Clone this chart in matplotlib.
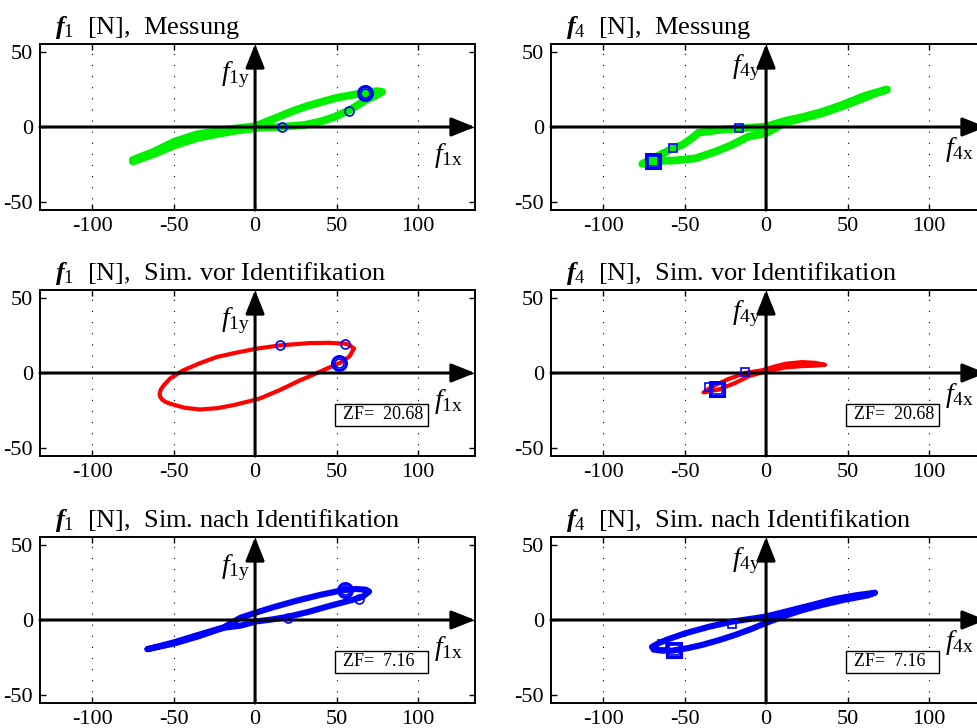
import matplotlib
matplotlib.use("Agg")
import matplotlib.pyplot as plt
from matplotlib.patches import Rectangle

plt.rcParams['font.family'] = ['Liberation Serif', 'DejaVu Serif']
plt.rcParams['mathtext.fontset'] = 'custom'
plt.rcParams['mathtext.rm'] = 'Liberation Serif'
plt.rcParams['mathtext.it'] = 'Liberation Serif:italic'
plt.rcParams['mathtext.bf'] = 'Liberation Serif:bold:italic'
plt.rcParams['axes.unicode_minus'] = False

# --- data ---
xticks = [-100, -50, 0, 50, 100]
yticks = [-50, 0, 50]

titles = ["Messung", "Sim. vor Identifikation", "Sim. nach Identifikation"]
zf_values = [None, 20.68, 7.16]

# f1, Messung (green)
f1_mess_x = [-75, -62, -50, -36, -25, -12, 0, 8, 16, 24, 32, 40, 50, 60, 68, 75, 78,
             74, 68, 58, 48, 40, 30, 15, 3, -12, -25, -36, -50, -62, -75]
f1_mess_y = [-22, -16.5, -10, -5, -3, -1, 0.5, 4, 7.5, 11, 14, 16.5, 19.5, 21.5, 23, 24, 23.5,
             21, 18, 11.3, 6.4, 3.6, 1.3, 0, -0.4, -2.5, -5, -7.5, -12.5, -18, -23]
f1_mess_mk_x = [16.7, 57.4]
f1_mess_mk_y = [0.2, 10.9]
f1_mess_big = (67.4, 22.8)

# f4, Messung (green)
f4_mess_x = [74, 61, 46, 34, 22, 12, 0, -17, -29, -41.5, -45.5, -51.5, -57, -64, -70, -76,
             -68, -56, -43.5, -31, -21, -11, 0, 5.5, 12, 22, 34, 46, 58, 67, 74]
f4_mess_y = [25, 21, 14.5, 10, 6.5, 4.2, 0.3, -1, -2, -3.8, -7.5, -12, -14.2, -18, -21.5, -24.7,
             -22.7, -22.4, -21, -16.5, -12, -6.5, -4.2, -0.9, 3, 5.8, 9, 13.5, 18.5, 22.5, 25]
f4_mess_mk_x = [-16.5, -57]
f4_mess_mk_y = [-0.9, -14.2]
f4_mess_big = (-69.6, -22.7)

# f1, Sim. vor Identifikation (red)
f1_vor_x = [60.6, 58, 55, 45, 33.7, 15.3, 1, -12, -23.5, -34, -44, -52, -56, -57.8, -58.6,
            -58.2, -57, -55, -52, -43, -33.7, -23, -13.3, -5, 3, 15, 27.6, 36, 44, 52, 58, 60.6]
f1_vor_y = [16.3, 18.8, 19.6, 20.2, 20, 18.5, 16.3, 13.5, 10.7, 6.5, 1.8, -3.5, -8.2, -11, -13.7,
            -16, -17.8, -19.3, -20.6, -23.3, -24.4, -23.5, -21.5, -19.3, -17, -11.5, -4.9, -1,
            2.9, 6.7, 11.1, 16.3]
f1_vor_mk_x = [15.3, 55.5]
f1_vor_mk_y = [18.5, 19.6]
f1_vor_big = (51.6, 6.9)

# f4, Sim. vor Identifikation (red)
f4_vor_x = [36, 30, 22, 12, 5.5, -2.6, -12.9, -23, -33, -38.4,
            -29, -19, -10.8, -0.6, 11.6, 22, 30, 36]
f4_vor_y = [5.5, 6.8, 7.3, 6.2, 4.4, 1.8, 0, -4, -9, -13,
            -11, -6.7, -2.2, 0.9, 3.7, 4.6, 4.9, 5.5]
f4_vor_mk_x = [-12.9, -34.9]
f4_vor_mk_y = [0.4, -9.4]
f4_vor_big = (-30.2, -10.6)

# f1, Sim. nach Identifikation (blue)
f1_nach_x = [-66, -50, -35, -19.4, -9, 1, 12, 25.5, 40, 54, 62, 68, 70,
             66, 60, 46, 33, 20.4, 10, 1, -9, -19.4, -35, -50, -66]
f1_nach_y = [-19.5, -15, -10, -5, 1.5, 5.1, 8.8, 12.9, 16.8, 20, 20.7, 20.3, 19,
             15.5, 13.5, 9.5, 5.5, 2.2, 0.3, -0.9, -3.8, -5.2, -11, -15.8, -19.5]
f1_nach_mk_x = [20.4, 63.8]
f1_nach_mk_y = [1.5, 14]
f1_nach_big = (55.1, 20.1)

# f4, Sim. nach Identifikation (blue)
f4_nach_x = [66.7, 55, 42.3, 28, 11.6, -0.6, -21, -35, -49.6, -60, -66, -70, -69,
             -64, -57.7, -48, -39.4, -29, -19, -9, -0.6, 11.6, 22, 34, 48, 62.6, 66.7]
f4_nach_y = [18.2, 16.5, 14, 10, 5.5, 2.2, -1.1, -4.5, -8.9, -12.8, -15.5, -18, -19.8,
             -20.5, -20.5, -18.8, -16.7, -13.5, -10, -6, -2.2, 2.8, 6.5, 10, 13.5, 16.5, 18.2]
f4_nach_mk_x = [-20.6, -64]
f4_nach_mk_y = [-2.5, -15.8]
f4_nach_big = (-56.8, -19.8)

curves = [
    [(f1_mess_x, f1_mess_y, f1_mess_mk_x, f1_mess_mk_y, f1_mess_big),
     (f4_mess_x, f4_mess_y, f4_mess_mk_x, f4_mess_mk_y, f4_mess_big)],
    [(f1_vor_x, f1_vor_y, f1_vor_mk_x, f1_vor_mk_y, f1_vor_big),
     (f4_vor_x, f4_vor_y, f4_vor_mk_x, f4_vor_mk_y, f4_vor_big)],
    [(f1_nach_x, f1_nach_y, f1_nach_mk_x, f1_nach_mk_y, f1_nach_big),
     (f4_nach_x, f4_nach_y, f4_nach_mk_x, f4_nach_mk_y, f4_nach_big)],
]
row_colors = ['#00f000', '#ff0000', '#0000ff']
row_lw = [5.6, 3.0, 4.4]
col_index = ['1', '4']
col_marker = ['o', 's']

# --- layout ---
fig = plt.figure(figsize=(9.78, 7.28), dpi=100)
lefts = [40 / 978, 551 / 978]
width = 435 / 978
bottoms = [1 - 210 / 728, 1 - 456 / 728, 1 - 703 / 728]
height = 166 / 728

for r in range(3):
    for c in range(2):
        ax = fig.add_axes([lefts[c], bottoms[r], width, height])
        cx, cy, mx, my, big = curves[r][c]
        ax.plot(cx, cy, color=row_colors[r], lw=row_lw[r], solid_joinstyle='round',
                solid_capstyle='round', zorder=2)
        ms = 6.5 if col_marker[c] == 'o' else 6
        ax.plot(mx, my, linestyle='none', marker=col_marker[c], ms=ms, mfc='none',
                mec='#0000ff', mew=1.2, zorder=5)
        ax.plot([big[0]], [big[1]], linestyle='none', marker=col_marker[c], ms=10,
                mfc='none', mec='#0000ff', mew=2.2, zorder=5)
        ax.plot([big[0]], [big[1]], linestyle='none', marker=col_marker[c], ms=6.5,
                mfc='none', mec='#0000ff', mew=1.2, zorder=5)

        ax.set_xlim(-132, 135)
        ax.set_ylim(-55.5, 55.5)
        ax.set_xticks(xticks)
        ax.set_yticks(yticks)
        ax.tick_params(direction='in', length=4, width=1, top=True, right=True,
                       labelsize=16, pad=5)
        ax.grid(axis='x', linestyle=(0, (1, 9)), color='k', lw=0.8)
        for s in ax.spines.values():
            s.set_linewidth(1.4)

        # coordinate arrows
        ax.annotate('', xy=(0, 1), xytext=(0, 0), xycoords=ax.get_xaxis_transform(),
                    arrowprops=dict(arrowstyle='-|>,head_length=0.8,head_width=0.32',
                                    lw=2.2, color='k', shrinkA=0, shrinkB=0,
                                    mutation_scale=18), zorder=4)
        ax.annotate('', xy=(1, 0), xytext=(0, 0), xycoords=ax.get_yaxis_transform(),
                    arrowprops=dict(arrowstyle='-|>,head_length=0.8,head_width=0.32',
                                    lw=2.2, color='k', shrinkA=0, shrinkB=0,
                                    mutation_scale=18), zorder=4)

        k = col_index[c]
        ax.text(-3, 35 if c == 0 else 40, r'$f_{\mathrm{%sy}}$' % k, fontsize=20,
                ha='right', va='center')
        ax.text(110, -19 if c == 0 else -15, r'$f_{\mathrm{%sx}}$' % k, fontsize=20,
                ha='left', va='center')

        ax.text(0.034, 1.06, r'$\mathbf{f}_{\mathrm{%s}}$  [N],  %s' % (k, titles[r]),
                transform=ax.transAxes, fontsize=19, ha='left', va='baseline')

        if zf_values[r] is not None:
            ax.add_patch(Rectangle((0.678, 0.179), 0.214, 0.136, transform=ax.transAxes,
                                   fc='white', ec='k', lw=1.0, zorder=6))
            ax.text(0.697, 0.247, 'ZF=  %.2f' % zf_values[r], transform=ax.transAxes,
                    fontsize=13, ha='left', va='center', zorder=7)

fig.savefig("out.png", dpi=100)
